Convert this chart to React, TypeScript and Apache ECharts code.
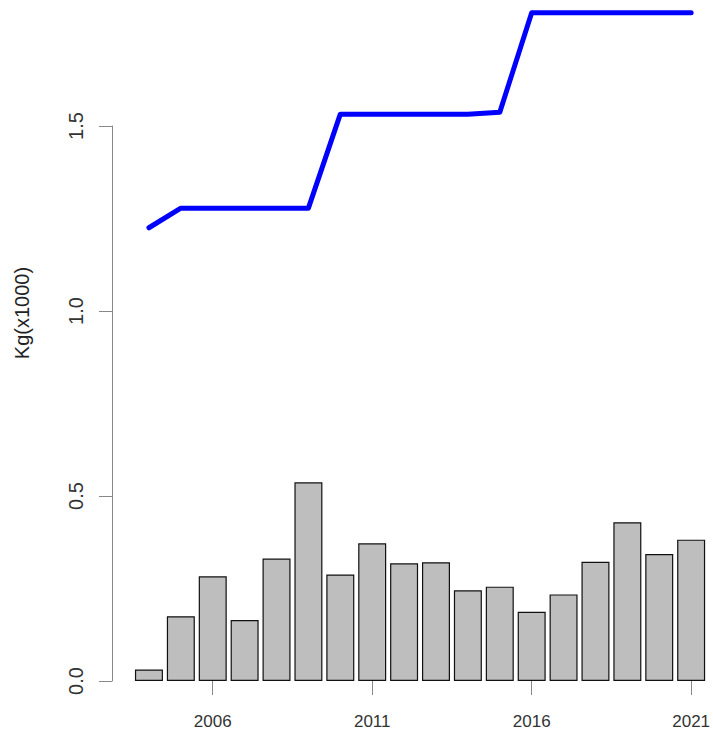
import React, { useEffect, useRef } from "react";
import * as echarts from "echarts";

const years = ["2004","2005","2006","2007","2008","2009","2010","2011","2012","2013","2014","2015","2016","2017","2018","2019","2020","2021"];
const barValues = [0.031,0.175,0.283,0.165,0.331,0.537,0.288,0.372,0.318,0.321,0.245,0.255,0.187,0.234,0.322,0.429,0.343,0.382];
const lineValues = [1.225,1.278,1.278,1.278,1.278,1.278,1.532,1.532,1.532,1.532,1.532,1.537,1.806,1.806,1.806,1.806,1.806,1.806];
const yTicks = [0, 0.5, 1.0, 1.5];
const yTitle = "Kg(x1000)";

export default function App() {
  const ref = useRef<HTMLDivElement>(null);
  useEffect(() => {
    if (!ref.current) return;
    const chart = echarts.init(ref.current, null, { renderer: "svg" });
    const showIdx = (i: number) => (i - 2) % 5 === 0 && i >= 2;
    chart.setOption({
      animation: false,
      backgroundColor: "#ffffff",
      grid: { left: 133, right: 4, top: 126, bottom: 59, containLabel: false },
      xAxis: {
        type: "category",
        data: years,
        axisLine: { show: false },
        axisTick: {
          show: true,
          alignWithLabel: true,
          interval: (i: number) => showIdx(i),
          length: 14,
          lineStyle: { color: "#888888", width: 1 },
        },
        axisLabel: {
          interval: (i: number) => showIdx(i),
          margin: 32,
          color: "#333333",
          fontSize: 17,
          fontFamily: "Liberation Sans, Arial, sans-serif",
        },
        splitLine: { show: false },
      },
      yAxis: {
        type: "value",
        min: 0,
        max: 1.5,
        interval: 0.5,
        offset: 21,
        axisLine: { show: true, lineStyle: { color: "#888888", width: 1 } },
        axisTick: { show: true, length: 13, lineStyle: { color: "#888888", width: 1 } },
        axisLabel: {
          rotate: 90,
          margin: 26,
          color: "#333333",
          fontSize: 20,
          fontFamily: "Liberation Sans, Arial, sans-serif",
          formatter: (v: number) => (yTicks.includes(v) ? v.toFixed(1) : ""),
        },
        splitLine: { show: false },
      },
      graphic: [
        {
          type: "text",
          x: 22,
          y: 313,
          rotation: Math.PI / 2,
          style: {
            text: yTitle,
            fill: "#222222",
            fontSize: 20,
            fontFamily: "Liberation Sans, Arial, sans-serif",
            align: "center",
            verticalAlign: "middle",
          },
        },
      ],
      series: [
        {
          type: "bar",
          data: barValues,
          barWidth: 28,
          itemStyle: { color: "#bebebe", borderColor: "#111111", borderWidth: 1.2 },
          z: 1,
        },
        {
          type: "line",
          data: lineValues,
          clip: false,
          showSymbol: false,
          symbol: "none",
          lineStyle: { color: "#0000ff", width: 5, cap: "round", join: "round" },
          z: 3,
        },
      ],
    });
    return () => chart.dispose();
  }, []);
  return (
    <div
      ref={ref}
      style={{ position: "fixed", left: 0, top: 0, width: 713, height: 740, background: "#fff" }}
    />
  );
}
